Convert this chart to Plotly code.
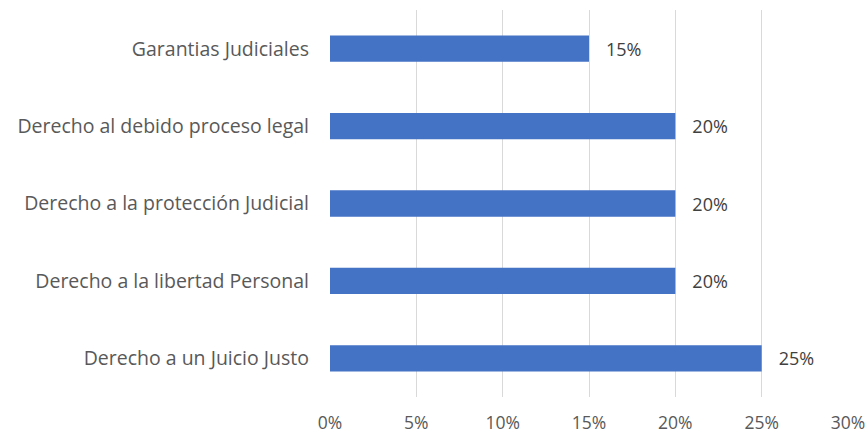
import plotly.graph_objects as go

categories = [
    "Derecho a un Juicio Justo",
    "Derecho a la libertad Personal",
    "Derecho a la protección Judicial",
    "Derecho al debido proceso legal",
    "Garantias Judiciales",
]
values = [0.25, 0.20, 0.20, 0.20, 0.15]
tick_vals = [0, 0.05, 0.10, 0.15, 0.20, 0.25, 0.30]
tick_text = ["0%", "5%", "10%", "15%", "20%", "25%", "30%"]

fig = go.Figure(
    go.Bar(
        y=categories,
        x=values,
        orientation="h",
        marker=dict(color="#4472C4", line=dict(width=0)),
        text=[f"{round(v*100)}%" for v in values],
        texttemplate="   %{text}",
        textposition="outside",
        cliponaxis=False,
        textfont=dict(color="#404040", size=18, family="Open Sans"),
        width=0.34,
    )
)

fig.update_layout(
    width=868,
    height=434,
    margin=dict(l=330, r=20, t=10, b=37),
    paper_bgcolor="white",
    plot_bgcolor="white",
    showlegend=False,
    font=dict(family="Open Sans", size=18, color="#595959"),
    xaxis=dict(
        range=[0, 0.30],
        tickvals=tick_vals,
        ticktext=tick_text,
        showgrid=True,
        gridcolor="#d9d9d9",
        gridwidth=1,
        zeroline=False,
        showline=False,
        automargin=False,
        ticklabelstandoff=13,
        tickfont=dict(size=17.5, color="#595959"),
    ),
    yaxis=dict(
        categoryorder="array",
        categoryarray=categories,
        showgrid=False,
        zeroline=False,
        showline=False,
        automargin=False,
        ticklabelstandoff=20,
        tickfont=dict(size=19.5, color="#595959"),
    ),
)

fig.write_html("out.html")
